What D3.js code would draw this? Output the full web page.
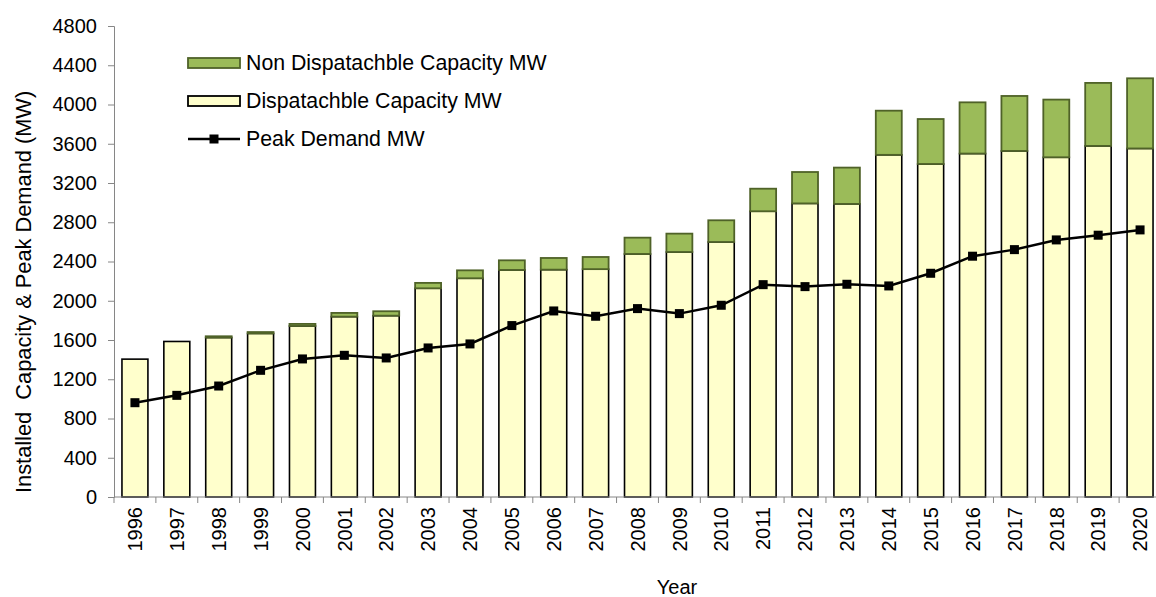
<!DOCTYPE html>
<html>
<head>
<meta charset="utf-8">
<script src="https://cdn.jsdelivr.net/npm/d3@7"></script>
<style>
  html, body { margin: 0; padding: 0; background: #fff; }
  svg { display: block; font-family: Arial, "Liberation Sans", sans-serif; }
</style>
</head>
<body>
<svg id="chart" width="1156" height="597"></svg>
<script>
(() => {
  const years = [1996, 1997, 1998, 1999, 2000, 2001, 2002, 2003, 2004, 2005, 2006, 2007, 2008,
    2009, 2010, 2011, 2012, 2013, 2014, 2015, 2016, 2017, 2018, 2019, 2020];

  const dispatchable = [1405, 1585, 1625, 1667, 1743, 1838, 1848, 2127, 2229, 2314, 2317, 2322, 2477,
    2497, 2599, 2912, 2992, 2987, 3487, 3394, 3500, 3527, 3462, 3578, 3552];

  const nonDispatchable = [0, 0, 13, 14, 21, 38, 45, 55, 81, 98, 119, 124, 166,
    187, 221, 230, 320, 370, 450, 458, 522, 560, 588, 642, 715];

  const peakDemand = [961, 1036, 1131, 1291, 1407, 1444, 1417, 1519, 1560, 1747, 1896, 1842, 1920,
    1869, 1954, 2164, 2144, 2168, 2151, 2280, 2454, 2521, 2620, 2668, 2722];

  const yTicks = [0, 400, 800, 1200, 1600, 2000, 2400, 2800, 3200, 3600, 4000, 4400, 4800];

  const LEGEND = [
    { label: "Non Dispatachble Capacity MW", type: "nondisp" },
    { label: "Dispatachble Capacity MW", type: "disp" },
    { label: "Peak Demand MW", type: "line" }
  ];

  const DISP_FILL = "#FFFFCC";
  const NONDISP_FILL = "#9BBB59";
  const NONDISP_STROKE = "#4F6228";
  const AXIS_COLOR = "#868686";

  const svg = d3.select("#chart");
  const margin = { top: 26, right: -5, bottom: 100, left: 114 };
  const width = 1156, height = 597;
  const innerWidth = width - margin.left - margin.right;
  const innerHeight = height - margin.top - margin.bottom;

  const g = svg.append("g").attr("transform", `translate(${margin.left},${margin.top})`);

  const x = d3.scaleBand().domain(years).range([0, innerWidth]).paddingInner(0.38).paddingOuter(0.19);
  const y = d3.scaleLinear().domain([0, 4800]).range([innerHeight, 0]);

  const data = years.map((yr, i) => ({
    year: yr,
    disp: dispatchable[i],
    nondisp: nonDispatchable[i],
    peak: peakDemand[i]
  }));

  /* ---------- BARS ---------- */

  g.selectAll("rect.disp")
    .data(data)
    .join("rect")
    .attr("class", "disp")
    .attr("x", d => x(d.year))
    .attr("width", x.bandwidth())
    .attr("y", d => y(d.disp))
    .attr("height", d => y(0) - y(d.disp))
    .attr("fill", DISP_FILL)
    .attr("stroke", "#000")
    .attr("stroke-width", 1.6);

  g.selectAll("rect.nondisp")
    .data(data.filter(d => d.nondisp > 0))
    .join("rect")
    .attr("class", "nondisp")
    .attr("x", d => x(d.year))
    .attr("width", x.bandwidth())
    .attr("y", d => y(d.disp + d.nondisp))
    .attr("height", d => y(d.disp) - y(d.disp + d.nondisp))
    .attr("fill", NONDISP_FILL)
    .attr("stroke", NONDISP_STROKE)
    .attr("stroke-width", 1.8);

  /* ---------- AXES ---------- */

  const yAxis = g.append("g")
    .call(d3.axisLeft(y).tickValues(yTicks).tickFormat(d3.format("d")).tickSize(6).tickPadding(11));
  yAxis.selectAll("line, path").attr("stroke", AXIS_COLOR);
  yAxis.selectAll("text").attr("fill", "#000").style("font-size", "20px");

  // x axis: ticks sit between bands
  const xAxis = g.append("g").attr("transform", `translate(0,${innerHeight})`);
  xAxis.append("line")
    .attr("x1", 0).attr("x2", innerWidth)
    .attr("stroke", AXIS_COLOR);
  const step = x.step();
  xAxis.selectAll("line.tick")
    .data(years)
    .join("line")
    .attr("class", "tick")
    .attr("x1", d => x(d) - (step - x.bandwidth()) / 2)
    .attr("x2", d => x(d) - (step - x.bandwidth()) / 2)
    .attr("y1", 0).attr("y2", 6)
    .attr("stroke", AXIS_COLOR);
  xAxis.selectAll("text")
    .data(years)
    .join("text")
    .attr("transform", d => `translate(${x(d) + x.bandwidth() / 2},10) rotate(-90)`)
    .attr("text-anchor", "end")
    .attr("dy", "0.36em")
    .attr("fill", "#000")
    .style("font-size", "20px")
    .text(d => d);

  /* ---------- LINE ---------- */

  const line = d3.line()
    .x(d => x(d.year) + x.bandwidth() / 2)
    .y(d => y(d.peak));

  g.append("path")
    .datum(data)
    .attr("d", line)
    .attr("fill", "none")
    .attr("stroke", "#000")
    .attr("stroke-width", 2.5);

  g.selectAll("rect.marker")
    .data(data)
    .join("rect")
    .attr("class", "marker")
    .attr("x", d => x(d.year) + x.bandwidth() / 2 - 4.5)
    .attr("y", d => y(d.peak) - 4.5)
    .attr("width", 9)
    .attr("height", 9)
    .attr("fill", "#000");

  /* ---------- LABELS ---------- */

  svg.append("text")
    .attr("transform", "translate(31,493) rotate(-90)")
    .attr("text-anchor", "start")
    .attr("fill", "#000")
    .style("font-size", "21.8px")
    .style("white-space", "pre")
    .text("Installed  Capacity & Peak Demand (MW)");

  svg.append("text")
    .attr("x", 677)
    .attr("y", 594)
    .attr("text-anchor", "middle")
    .attr("fill", "#000")
    .style("font-size", "20px")
    .text("Year");

  /* ---------- LEGEND ---------- */

  const legend = svg.append("g").attr("transform", "translate(188,63)");
  LEGEND.forEach((item, i) => {
    const row = legend.append("g").attr("transform", `translate(0,${i * 38})`);
    if (item.type === "line") {
      row.append("line")
        .attr("x1", 0).attr("x2", 52).attr("y1", 0).attr("y2", 0)
        .attr("stroke", "#000").attr("stroke-width", 2.5);
      row.append("rect")
        .attr("x", 21.5).attr("y", -4.5).attr("width", 9).attr("height", 9)
        .attr("fill", "#000");
    } else {
      row.append("rect")
        .attr("x", 0).attr("y", -5).attr("width", 52).attr("height", 10)
        .attr("fill", item.type === "disp" ? DISP_FILL : NONDISP_FILL)
        .attr("stroke", item.type === "disp" ? "#000" : NONDISP_STROKE)
        .attr("stroke-width", 1.8);
    }
    row.append("text")
      .attr("x", 58)
      .attr("y", 0)
      .attr("dy", "0.35em")
      .attr("fill", "#000")
      .style("font-size", "21.3px")
      .text(item.label);
  });
})();
</script>
</body>
</html>
